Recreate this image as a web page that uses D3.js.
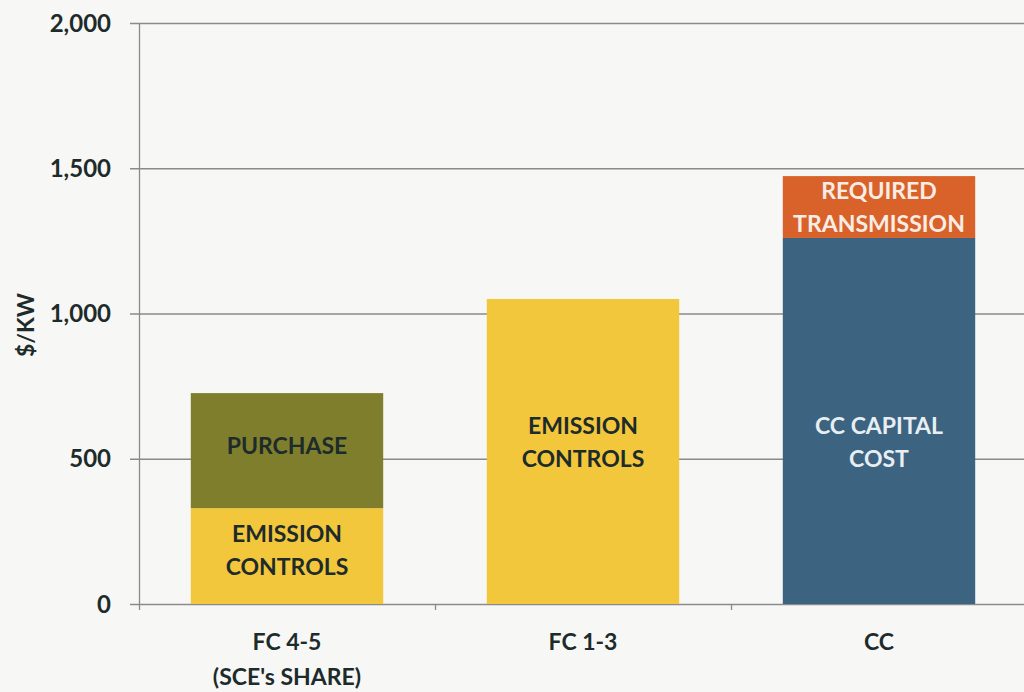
<!DOCTYPE html>
<html><head><meta charset="utf-8">
<script src="https://cdn.jsdelivr.net/npm/d3@7"></script>
<style>
html,body{margin:0;padding:0;background:#f7f7f6;}
svg{display:block;}
text{font-family:"Lato","Open Sans",sans-serif;font-weight:700;}
</style></head><body>
<svg id="c" width="1024" height="692"></svg>
<script>
const categories = ["FC 4-5", "FC 1-3", "CC"];
const categoryLines = [["FC 4-5", "(SCE's SHARE)"], ["FC 1-3"], ["CC"]];
const baseValues = [330, 1050, 1260];
const topValues = [396, 0, 213];
const baseLabels = [["EMISSION", "CONTROLS"], ["EMISSION", "CONTROLS"], ["CC CAPITAL", "COST"]];
const topLabels = [["PURCHASE"], [], ["REQUIRED", "TRANSMISSION"]];
const baseColors = ["#f3c73c", "#f3c73c", "#3c6481"];
const topColors = ["#7f7e2c", "#7f7e2c", "#d9622a"];
const baseTextColors = ["#1d2b2b", "#1d2b2b", "#e8eef2"];
const topTextColors = ["#1d2b2b", "#1d2b2b", "#f8ece4"];
const yTicks = [0, 500, 1000, 1500, 2000];
const yLabel = "$/KW";

const svg = d3.select("#c");
const x0 = 139, x1 = 1027, yBottom = 604, yTop = 23;
const x = d3.scaleBand().domain(categories).range([x0, x1]).paddingInner(0.35).paddingOuter(0.175);
const y = d3.scaleLinear().domain([0, 2000]).range([yBottom, yTop]);
const fmt = d3.format(",");

// gridlines
svg.append("g").selectAll("line").data(yTicks).join("line")
  .attr("x1", 130).attr("x2", 1024)
  .attr("y1", d => y(d) + 0.5).attr("y2", d => y(d) + 0.5)
  .attr("stroke", "#8a8a8a").attr("stroke-width", 1.3);

// y axis line
svg.append("line").attr("x1", x0 + 0.5).attr("x2", x0 + 0.5)
  .attr("y1", yTop).attr("y2", yBottom + 6)
  .attr("stroke", "#8a8a8a").attr("stroke-width", 1.3);

// category ticks
const bandStep = x.step();
svg.append("g").selectAll("line").data(categories.slice(1)).join("line")
  .attr("x1", d => x(d) - bandStep * 0.175 + 0.5)
  .attr("x2", d => x(d) - bandStep * 0.175 + 0.5)
  .attr("y1", yBottom).attr("y2", yBottom + 6)
  .attr("stroke", "#8a8a8a").attr("stroke-width", 1.3);

// y tick labels
svg.append("g").selectAll("text").data(yTicks).join("text")
  .attr("x", 111).attr("y", d => y(d)).attr("dy", "0.36em")
  .attr("text-anchor", "end").attr("font-size", 24).attr("fill", "#1d2b2b")
  .text(d => fmt(d));

// y label
svg.append("text").attr("transform", `translate(34,325) rotate(-90)`)
  .attr("text-anchor", "middle").attr("font-size", 23).attr("fill", "#1d2b2b")
  .text(yLabel);

// bars
const data = categories.map((c, i) => ({c, i, base: baseValues[i], top: topValues[i]}));
const g = svg.append("g");
g.selectAll("rect.base").data(data).join("rect").attr("class", "base")
  .attr("x", d => x(d.c)).attr("width", x.bandwidth())
  .attr("y", d => y(d.base)).attr("height", d => y(0) - y(d.base))
  .attr("fill", d => baseColors[d.i]);
g.selectAll("rect.top").data(data.filter(d => d.top > 0)).join("rect").attr("class", "top")
  .attr("x", d => x(d.c)).attr("width", x.bandwidth())
  .attr("y", d => y(d.base + d.top)).attr("height", d => y(d.base) - y(d.base + d.top))
  .attr("fill", d => topColors[d.i]);

// labels within segments
function segLabel(lines, cx, cy, color) {
  const lh = 33;
  const t = svg.append("text").attr("text-anchor", "middle").attr("font-size", 23).attr("fill", color);
  lines.forEach((l, k) => {
    t.append("tspan").attr("x", cx).attr("y", cy + (k - (lines.length - 1) / 2) * lh).attr("dy", "0.36em").text(l);
  });
}
data.forEach(d => {
  const cx = x(d.c) + x.bandwidth() / 2;
  let bcy = (y(0) + y(d.base)) / 2 - 6;
  if (d.i === 1 || d.i === 2) bcy = y(557);
  segLabel(baseLabels[d.i], cx, bcy, baseTextColors[d.i]);
  if (d.top > 0) {
    let tcy = (y(d.base) + y(d.base + d.top)) / 2;
    if (d.i === 0) tcy -= 5;
    segLabel(topLabels[d.i], cx, tcy, topTextColors[d.i]);
  }
});

// category labels
categoryLines.forEach((lines, i) => {
  const t = svg.append("text").attr("text-anchor", "middle").attr("font-size", 23).attr("fill", "#1d2b2b");
  lines.forEach((l, k) => {
    t.append("tspan").attr("x", x(categories[i]) + x.bandwidth() / 2).attr("y", 642 + k * 35).attr("dy", "0.36em").text(l);
  });
});
</script>
</body></html>
